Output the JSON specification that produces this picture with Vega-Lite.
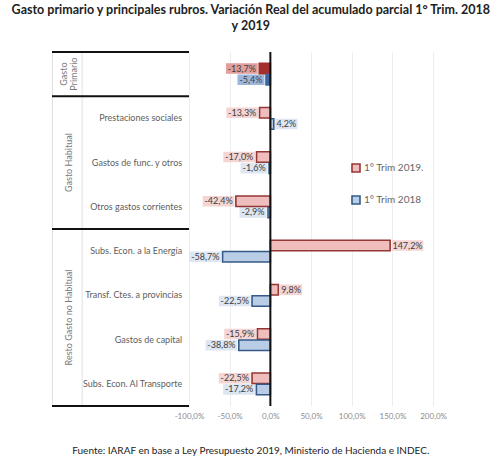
{
  "$schema": "https://vega.github.io/schema/vega-lite/v6.json",
  "background": "white",
  "padding": {"top": 4, "left": 10, "right": 4, "bottom": 4},
  "config": {
    "locale": {"number": {"decimal": ",", "thousands": ".", "grouping": [3], "currency": ["$", ""], "minus": "-"}},
    "font": "Lato",
    "view": {"stroke": null}
  },
  "datasets": {
    "rubros": [
      {"rubro": "Gasto Primario", "serie": "1° Trim 2019.", "v": -0.137},
      {"rubro": "Gasto Primario", "serie": "1° Trim 2018", "v": -0.054},
      {"rubro": "Prestaciones sociales", "serie": "1° Trim 2019.", "v": -0.133},
      {"rubro": "Prestaciones sociales", "serie": "1° Trim 2018", "v": 0.042},
      {"rubro": "Gastos de func. y otros", "serie": "1° Trim 2019.", "v": -0.170},
      {"rubro": "Gastos de func. y otros", "serie": "1° Trim 2018", "v": -0.016},
      {"rubro": "Otros gastos corrientes", "serie": "1° Trim 2019.", "v": -0.424},
      {"rubro": "Otros gastos corrientes", "serie": "1° Trim 2018", "v": -0.029},
      {"rubro": "Subs. Econ. a la Energía", "serie": "1° Trim 2019.", "v": 1.472},
      {"rubro": "Subs. Econ. a la Energía", "serie": "1° Trim 2018", "v": -0.587},
      {"rubro": "Transf. Ctes. a provincias", "serie": "1° Trim 2019.", "v": 0.098},
      {"rubro": "Transf. Ctes. a provincias", "serie": "1° Trim 2018", "v": -0.225},
      {"rubro": "Gastos de capital", "serie": "1° Trim 2019.", "v": -0.159},
      {"rubro": "Gastos de capital", "serie": "1° Trim 2018", "v": -0.388},
      {"rubro": "Subs. Econ. Al Transporte", "serie": "1° Trim 2019.", "v": -0.225},
      {"rubro": "Subs. Econ. Al Transporte", "serie": "1° Trim 2018", "v": -0.172}
    ]
  },
  "title": {
    "text": ["Gasto primario y principales rubros. Variación Real del acumulado parcial 1° Trim. 2018", "y 2019"],
    "fontSize": 12.5,
    "fontWeight": "bold",
    "color": "#222222",
    "lineHeight": 16,
    "anchor": "middle",
    "offset": 18
  },
  "vconcat": [
    {
      "title": {
        "text": "Fuente: IARAF en base a Ley Presupuesto 2019, Ministerio de Hacienda e INDEC.",
        "orient": "bottom",
        "anchor": "middle",
        "fontSize": 10,
        "fontWeight": "normal",
        "color": "#222222",
        "offset": 26
      },
      "bounds": "flush",
      "spacing": 0,
      "resolve": {
        "scale": {"fill": "independent", "stroke": "independent"},
        "legend": {"fill": "independent", "stroke": "independent"}
      },
      "hconcat": [
        {
          "width": 137,
          "height": 354,
          "view": {"stroke": "#e0e0e0", "strokeWidth": 1},
          "layer": [
            {
              "data": {"values": [{"c": 0.22}]},
              "mark": {"type": "rule", "stroke": "#e0e0e0", "strokeWidth": 1},
              "encoding": {
                "x": {"field": "c", "type": "quantitative", "scale": {"domain": [0, 1]}, "axis": null}
              }
            },
            {
              "data": {"values": [{"rubro": "Gasto Primario"}, {"rubro": "Prestaciones sociales"}, {"rubro": "Subs. Econ. a la Energía"}]},
              "mark": {"type": "rule", "stroke": "#111111", "strokeWidth": 2},
              "encoding": {
                "x": {"datum": 0, "type": "quantitative", "axis": null},
                "x2": {"datum": 1},
                "y": {"field": "rubro", "type": "nominal", "bandPosition": 0, "axis": null,
                  "scale": {"domain": ["Gasto Primario", "Prestaciones sociales", "Gastos de func. y otros", "Otros gastos corrientes", "Subs. Econ. a la Energía", "Transf. Ctes. a provincias", "Gastos de capital", "Subs. Econ. Al Transporte"], "paddingInner": 0, "paddingOuter": 0}}
              }
            },
            {
              "data": {"values": [{"rubro": "Subs. Econ. Al Transporte"}]},
              "mark": {"type": "rule", "stroke": "#111111", "strokeWidth": 2},
              "encoding": {
                "x": {"datum": 0, "type": "quantitative", "axis": null},
                "x2": {"datum": 1},
                "y": {"field": "rubro", "type": "nominal", "bandPosition": 1, "axis": null}
              }
            },
            {
              "data": {"name": "rubros"},
              "transform": [{"filter": "datum.serie === '1° Trim 2019.' && datum.rubro !== 'Gasto Primario'"}],
              "mark": {"type": "text", "align": "right", "baseline": "middle", "fontSize": 9, "color": "#606060"},
              "encoding": {
                "y": {"field": "rubro", "type": "nominal", "axis": null},
                "x": {"datum": 0.95, "type": "quantitative", "axis": null},
                "text": {"field": "rubro"}
              }
            },
            {
              "data": {"values": [{"grupo": ["Gasto", "Primario"], "rubro": "Gasto Primario"}]},
              "mark": {"type": "text", "angle": 270, "align": "center", "baseline": "middle", "fontSize": 9, "lineHeight": 10, "color": "#7a7a7a"},
              "encoding": {
                "y": {"field": "rubro", "type": "nominal", "axis": null},
                "x": {"datum": 0.085, "type": "quantitative", "axis": null},
                "text": {"field": "grupo"}
              }
            },
            {
              "data": {"values": [{"grupo": "Gasto Habitual", "rubro": "Gastos de func. y otros"}]},
              "mark": {"type": "text", "angle": 270, "align": "center", "baseline": "middle", "fontSize": 9, "color": "#7a7a7a"},
              "encoding": {
                "y": {"field": "rubro", "type": "nominal", "axis": null},
                "x": {"datum": 0.124, "type": "quantitative", "axis": null},
                "text": {"field": "grupo"}
              }
            },
            {
              "data": {"values": [{"grupo": "Resto Gasto no Habitual", "rubro": "Transf. Ctes. a provincias"}]},
              "mark": {"type": "text", "angle": 270, "align": "center", "baseline": "middle", "fontSize": 9, "color": "#7a7a7a"},
              "encoding": {
                "y": {"field": "rubro", "type": "nominal", "bandPosition": 1, "axis": null},
                "x": {"datum": 0.124, "type": "quantitative", "axis": null},
                "text": {"field": "grupo"}
              }
            }
          ]
        },
        {
          "width": 262,
          "height": 354,
          "data": {"name": "rubros"},
          "layer": [
            {
              "mark": {
                "type": "bar",
                "xOffset": {"expr": "datum.v < 0 ? -1.5 : 1.5"},
                "x2Offset": {"expr": "(datum.v < 0 ? -1 : 1) * (5 + 4.7 * length(format(datum.v, '.1%')))"}
              },
              "encoding": {
                "y": {"field": "rubro", "type": "nominal", "axis": null,
                  "scale": {"domain": ["Gasto Primario", "Prestaciones sociales", "Gastos de func. y otros", "Otros gastos corrientes", "Subs. Econ. a la Energía", "Transf. Ctes. a provincias", "Gastos de capital", "Subs. Econ. Al Transporte"], "paddingInner": 0, "paddingOuter": 0}},
                "yOffset": {"field": "serie", "type": "nominal",
                  "scale": {"domain": ["1° Trim 2019.", "1° Trim 2018"], "paddingInner": 0.06, "paddingOuter": 1}},
                "x": {"field": "v", "type": "quantitative",
                  "scale": {"domain": [-1, 2.22], "nice": false, "zero": false},
                  "axis": {"values": [-1, -0.5, 0, 0.5, 1, 1.5, 2], "format": ".1%", "grid": true, "gridColor": "#ededed",
                    "domain": false, "ticks": false, "labelFontSize": 8, "labelColor": "#8c8c8c", "labelPadding": 6,
                    "labelFlush": false, "labelOverlap": false, "title": null}},
                "x2": {"field": "v"},
                "fill": {
                  "condition": [
                    {"test": "datum.rubro === 'Gasto Primario' && datum.serie === '1° Trim 2019.'", "value": "#e29e9c"},
                    {"test": "datum.rubro === 'Gasto Primario'", "value": "#9db7da"},
                    {"test": "datum.serie === '1° Trim 2019.'", "value": "#f4d5d4"}
                  ],
                  "value": "#dde6f1"
                }
              }
            },
            {
              "mark": {"type": "bar", "strokeWidth": 1.6},
              "encoding": {
                "y": {"field": "rubro", "type": "nominal", "axis": null},
                "yOffset": {"field": "serie", "type": "nominal"},
                "x": {"field": "v", "type": "quantitative"},
                "fill": {
                  "field": "serie", "type": "nominal",
                  "scale": {"domain": ["1° Trim 2019.", "1° Trim 2018"], "range": ["#eebdbc", "#b9cde6"]},
                  "condition": [
                    {"test": "datum.rubro === 'Gasto Primario' && datum.serie === '1° Trim 2019.'", "value": "#a3302e"},
                    {"test": "datum.rubro === 'Gasto Primario'", "value": "#3d67a3"}
                  ],
                  "legend": {"orient": "none", "legendX": 162, "legendY": 111, "title": null, "symbolType": "square",
                    "symbolSize": 64, "symbolStrokeWidth": 1.6, "labelFontSize": 10, "labelColor": "#666666",
                    "rowPadding": 16, "labelOffset": 3}
                },
                "stroke": {
                  "field": "serie", "type": "nominal",
                  "scale": {"domain": ["1° Trim 2019.", "1° Trim 2018"], "range": ["#953735", "#355a88"]},
                  "condition": [
                    {"test": "datum.rubro === 'Gasto Primario' && datum.serie === '1° Trim 2019.'", "value": "#a3302e"},
                    {"test": "datum.rubro === 'Gasto Primario'", "value": "#3d67a3"}
                  ],
                  "legend": {"orient": "none", "legendX": 162, "legendY": 111, "title": null, "symbolType": "square",
                    "symbolSize": 64, "symbolStrokeWidth": 1.6, "labelFontSize": 10, "labelColor": "#666666",
                    "rowPadding": 16, "labelOffset": 3}
                }
              }
            },
            {
              "data": {"values": [{}]},
              "mark": {"type": "rule", "stroke": "#111111", "strokeWidth": 2},
              "encoding": {"x": {"datum": 0}}
            },
            {
              "mark": {
                "type": "text", "fontSize": 9, "color": "#404040", "align": "center", "baseline": "middle",
                "dx": {"expr": "(datum.v < 0 ? -1 : 1) * (3.25 + 2.35 * length(format(datum.v, '.1%')))"}
              },
              "encoding": {
                "y": {"field": "rubro", "type": "nominal", "axis": null},
                "yOffset": {"field": "serie", "type": "nominal"},
                "x": {"field": "v", "type": "quantitative"},
                "text": {"field": "v", "type": "quantitative", "format": ".1%"}
              }
            }
          ]
        }
      ]
    }
  ]
}
